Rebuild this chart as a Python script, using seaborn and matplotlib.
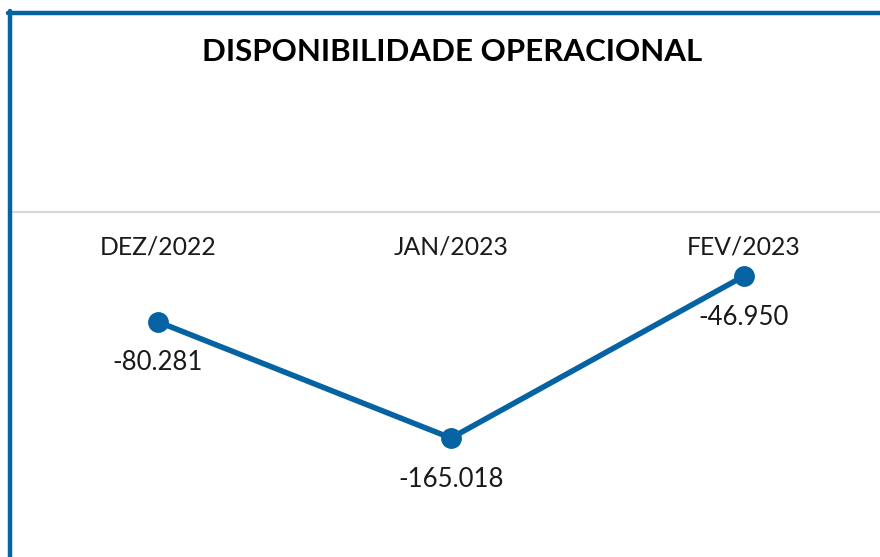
import matplotlib
matplotlib.use("Agg")
import matplotlib.pyplot as plt
import matplotlib.transforms as mtransforms
from matplotlib.lines import Line2D
import seaborn as sns
import pandas as pd

# dados
meses = ["DEZ/2022", "JAN/2023", "FEV/2023"]
valores = [-80.281, -165.018, -46.950]
rotulos = ["-80.281", "-165.018", "-46.950"]

AZUL = "#0563A3"
CINZA = "#d9d9d9"

sns.set_theme(style="white")
plt.rcParams['font.family'] = ['Lato', 'DejaVu Sans']

df = pd.DataFrame({"mes": meses, "valor": valores})

fig = plt.figure(figsize=(8.8, 5.57), dpi=100)
ax = fig.add_axes([0, 0, 1, 1])
ax.set_facecolor("none")

sns.pointplot(data=df, x="mes", y="valor", color=AZUL, markersize=12,
              linewidth=4, ax=ax)

ax.set_xlim(-0.539, 2.464)
ax.set_ylim(-251.7, 154.2)
ax.axhline(0, xmin=13/880, xmax=1, color=CINZA, lw=1.6, zorder=0)

# rotulos dos meses no topo
trans = mtransforms.blended_transform_factory(ax.transData, ax.transAxes)
for i, m in enumerate(meses):
    ax.text(i, 1 - 247/557, m, transform=trans, ha="center", va="center",
            fontsize=17.8, color="#1a1a1a")

# rotulos dos valores
for i, (v, r) in enumerate(zip(valores, rotulos)):
    ax.annotate(r, (i, v), xytext=(0, -41), textcoords="offset pixels",
                ha="center", va="center", fontsize=18.5, color="#1a1a1a")

ax.set_xlabel("")
ax.set_ylabel("")
ax.set_xticks([])
ax.set_yticks([])
for s in ax.spines.values():
    s.set_visible(False)

fig.text(452/880, 1 - 52/557, "DISPONIBILIDADE OPERACIONAL", ha="center",
         va="center", fontsize=22.5, fontweight="bold", color="black")

# moldura azul (topo e esquerda)
fig.add_artist(Line2D([10/880, 10/880], [0, 1 - 11/557], color=AZUL, lw=3.2,
                      transform=fig.transFigure))
fig.add_artist(Line2D([8/880, 1], [1 - 13/557, 1 - 13/557], color=AZUL, lw=3.2,
                      transform=fig.transFigure))

fig.savefig("out.png", dpi=100)
